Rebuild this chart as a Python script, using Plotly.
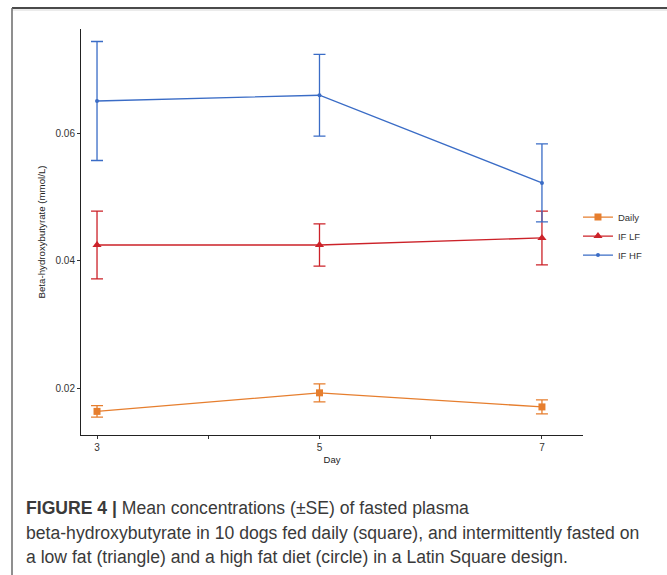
import plotly.graph_objects as go

days = [3, 5, 7]
series_names = ["Daily", "IF LF", "IF HF"]
daily_mean = [0.0165, 0.0194, 0.0172]
daily_se = [0.0009, 0.0014, 0.0011]
iflf_mean = [0.0425, 0.0425, 0.0436]
iflf_se = [0.0053, 0.0033, 0.0042]
ifhf_mean = [0.0650, 0.0659, 0.0522]
ifhf_se = [0.0093, 0.0064, 0.0061]

x_tickvals = [3, 4, 5, 6, 7]
x_ticktext = ["3", "", "5", "", "7"]
y_tickvals = [0.02, 0.04, 0.06]
y_ticktext = ["0.02", "0.04", "0.06"]

caption_lines = [
    "<b>FIGURE 4 |</b> Mean concentrations (\u00b1SE) of fasted plasma",
    "beta-hydroxybutyrate in 10 dogs fed daily (square), and intermittently fasted on",
    "a low fat (triangle) and a high fat diet (circle) in a Latin Square design.",
]

colors = ["#E67E2E", "#CC2229", "#3A6CC6"]
symbols = ["square", "triangle-up", "circle"]
sizes = [7, 8, 4]
means = [daily_mean, iflf_mean, ifhf_mean]
ses = [daily_se, iflf_se, ifhf_se]

fig = go.Figure()
for name, m, s, c, sym, sz in zip(series_names, means, ses, colors, symbols, sizes):
    fig.add_trace(go.Scatter(
        x=days, y=m, name=name, mode="lines+markers",
        line=dict(color=c, width=1.3),
        marker=dict(symbol=sym, size=sz, color=c),
        error_y=dict(type="data", array=s, visible=True, color=c, thickness=1.3, width=6),
    ))

W, H = 667, 575
L, R, T, B = 81, 84, 29, 140
fig.update_layout(
    width=W, height=H,
    margin=dict(l=L, r=R, t=T, b=B),
    paper_bgcolor="white", plot_bgcolor="white",
    font=dict(family="Liberation Sans, Arial, sans-serif", size=10, color="#333333"),
    showlegend=True,
    legend=dict(x=0.99, xanchor="left", y=0.49, yanchor="middle",
                font=dict(size=9.5, color="#333333"), bgcolor="rgba(0,0,0,0)",
                tracegroupgap=0),
    xaxis=dict(range=[2.856, 7.369], tickvals=x_tickvals, ticktext=x_ticktext,
               showgrid=False, zeroline=False, showline=True, linecolor="#222222", linewidth=1,
               ticks="outside", ticklen=3, tickcolor="#333333", tickwidth=1,
               tickfont=dict(size=10, color="#333333"),
               title=dict(text="Day", font=dict(size=9.5, color="#222222"), standoff=4)),
    yaxis=dict(range=[0.01281, 0.07625], tickvals=y_tickvals, ticktext=y_ticktext,
               showgrid=False, zeroline=False, showline=True, linecolor="#222222", linewidth=1,
               ticks="outside", ticklen=3, tickcolor="#333333", tickwidth=1,
               tickfont=dict(size=10, color="#333333"),
               title=dict(text="Beta-hydroxybutyrate (mmol/L)", font=dict(size=9.7, color="#222222"), standoff=8)),
)

pw = W - L - R
ph = H - T - B
def px(xp):
    return (xp - L) / pw
def py(yp):
    return (H - B - yp) / ph

# outer figure frame
fig.add_shape(type="line", xref="paper", yref="paper", x0=px(12), x1=px(667), y0=py(8), y1=py(8),
              line=dict(color="#4a4a4a", width=2))
fig.add_shape(type="line", xref="paper", yref="paper", x0=px(12), x1=px(667), y0=py(10), y1=py(10),
              line=dict(color="#d8d8d8", width=1))
fig.add_shape(type="line", xref="paper", yref="paper", x0=px(12), x1=px(12), y0=py(8), y1=py(575),
              line=dict(color="#6a6a6a", width=1.5))

line_y = [508, 533, 557]
for txt, yy in zip(caption_lines, line_y):
    fig.add_annotation(text=txt, xref="paper", yref="paper", x=px(24), y=py(yy),
                       xanchor="left", yanchor="middle", showarrow=False,
                       font=dict(family="Liberation Sans, Arial, sans-serif", size=17.6, color="#3a3a3a"))

fig.write_html("out.html", config={"displayModeBar": False},
               post_script="document.body.style.margin='0';document.body.style.overflow='hidden';")
